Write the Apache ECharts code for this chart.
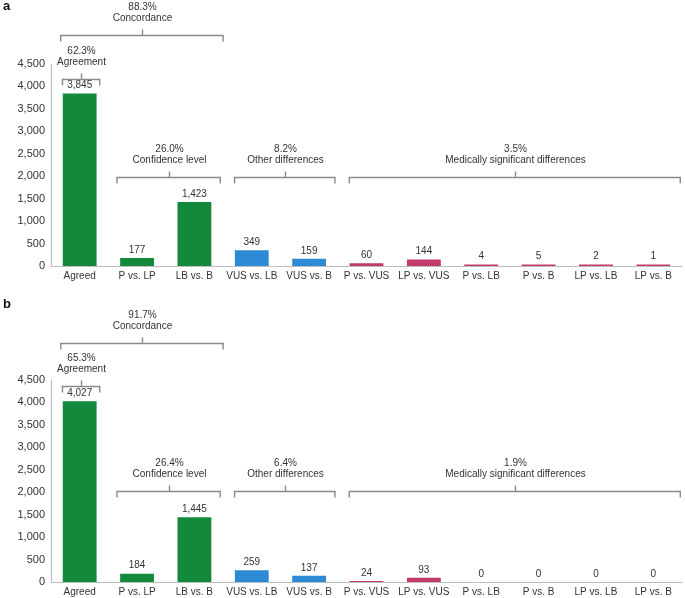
<!DOCTYPE html>
<html><head><meta charset="utf-8">
<script src="https://cdn.jsdelivr.net/npm/echarts@6/dist/echarts.min.js"></script>
<style>html,body{margin:0;padding:0;background:#fff}#c{width:685px;height:598px}</style>
</head><body><div id="c"></div>
<script>
// ---- data ----
const categories = ['Agreed','P vs. LP','LB vs. B','VUS vs. LB','VUS vs. B','P vs. VUS','LP vs. VUS','P vs. LB','P vs. B','LP vs. LB','LP vs. B'];
const groupOfCategory = [0,0,0,1,1,2,2,2,2,2,2];
const valuesA = [3845,177,1423,349,159,60,144,4,5,2,1];
const valuesB = [4027,184,1445,259,137,24,93,0,0,0,0];
const yTickMin = 0, yTickMax = 4500, yTickStep = 500;
const bracketSpans = [[0,0],[0,2],[1,2],[3,4],[5,10]];
const bracketNames = ['Agreement','Concordance','Confidence level','Other differences','Medically significant differences'];
const bracketPctA = ['62.3%','88.3%','26.0%','8.2%','3.5%'];
const bracketPctB = ['65.3%','91.7%','26.4%','6.4%','1.9%'];

// ---- layout / style ----
const groupColors = ['#138a3b','#2d8bd5','#c13a6b'];
const bracketLevelA = [4170,5147,1983,1983,1983];
const bracketLevelB = [4367,5325,2027,2027,2027];
const bracketPad = [[-0.3,0.35],[-0.33,0.5],[-0.35,0.45],[-0.3,0.45],[-0.3,0.47]];
const FONT = '"Liberation Sans", Arial, Helvetica, sans-serif';
const TXT = '#333';
const grids = [
  {left:51, width:631, top:64, height:202},
  {left:51, width:631, top:380, height:202}
];

function barSeries(idx, values, minH){
  return {
    type:'bar', xAxisIndex:idx, yAxisIndex:idx, barWidth:'59%', barMinHeight:minH,
    data: values.map((v,i)=>({value:v, itemStyle:{color:groupColors[groupOfCategory[i]]}})),
    label:{show:true, position:'top', distance:3, fontFamily:FONT, fontSize:10, color:TXT,
      formatter:p=>p.value.toLocaleString('en-US')},
    silent:true, animation:false
  };
}
function bracketSeries(idx, pcts, levels){
  return {
    type:'custom', xAxisIndex:idx, yAxisIndex:idx, clip:false, silent:true, animation:false,
    data: bracketSpans.map((s,i)=>[s[0], s[1], levels[i]]),
    renderItem:(params, api)=>{
      const i = params.dataIndex;
      const bw = api.size([1,0])[0];
      const p1 = api.coord([api.value(0), api.value(2)]);
      const p2 = api.coord([api.value(1), api.value(2)]);
      const x1 = p1[0] + bracketPad[i][0]*bw;
      const x2 = p2[0] + bracketPad[i][1]*bw;
      const y = Math.round(p1[1]) + 0.5;
      const xm = Math.round((x1+x2)/2) + 0.5;
      return {type:'group', children:[
        {type:'polyline', shape:{points:[[x1,y+6],[x1,y],[xm,y],[xm,y-6],[xm,y],[x2,y],[x2,y+6]]},
          style:{stroke:'#8a8a8a', lineWidth:1.4, fill:null}},
        {type:'text', x:xm, y:y-23, style:{text:pcts[i]+'\n'+bracketNames[i], fontFamily:FONT, fontSize:10,
          fill:TXT, align:'center', verticalAlign:'middle', lineHeight:11.5}}
      ]};
    }
  };
}
const xAxes = grids.map((g,i)=>({type:'category', gridIndex:i, data:categories,
  axisLine:{lineStyle:{color:'#bdbdbd', width:1.2}}, axisTick:{show:false},
  axisLabel:{fontFamily:FONT, fontSize:10, color:TXT, margin:5, interval:0}}));
const yAxes = grids.map((g,i)=>({type:'value', gridIndex:i, min:yTickMin, max:yTickMax, interval:yTickStep,
  axisLine:{show:true, lineStyle:{color:'#bdbdbd', width:1.2}}, axisTick:{show:false}, splitLine:{show:false},
  axisLabel:{fontFamily:FONT, fontSize:11, color:TXT, margin:6, formatter:v=>v.toLocaleString('en-US')}}));

const chart = echarts.init(document.getElementById('c'), null, {renderer:'canvas'});
chart.setOption({
  animation:false,
  backgroundColor:'#fff',
  grid:grids,
  xAxis:xAxes, yAxis:yAxes,
  graphic:[
    {type:'text', left:3, top:0, style:{text:'a', font:'bold 13px '+FONT, fill:'#111'}},
    {type:'text', left:3, top:298, style:{text:'b', font:'bold 13px '+FONT, fill:'#111'}}
  ],
  series:[
    barSeries(0, valuesA, 1.5), bracketSeries(0, bracketPctA, bracketLevelA),
    barSeries(1, valuesB, 0), bracketSeries(1, bracketPctB, bracketLevelB)
  ]
});
</script></body></html>
